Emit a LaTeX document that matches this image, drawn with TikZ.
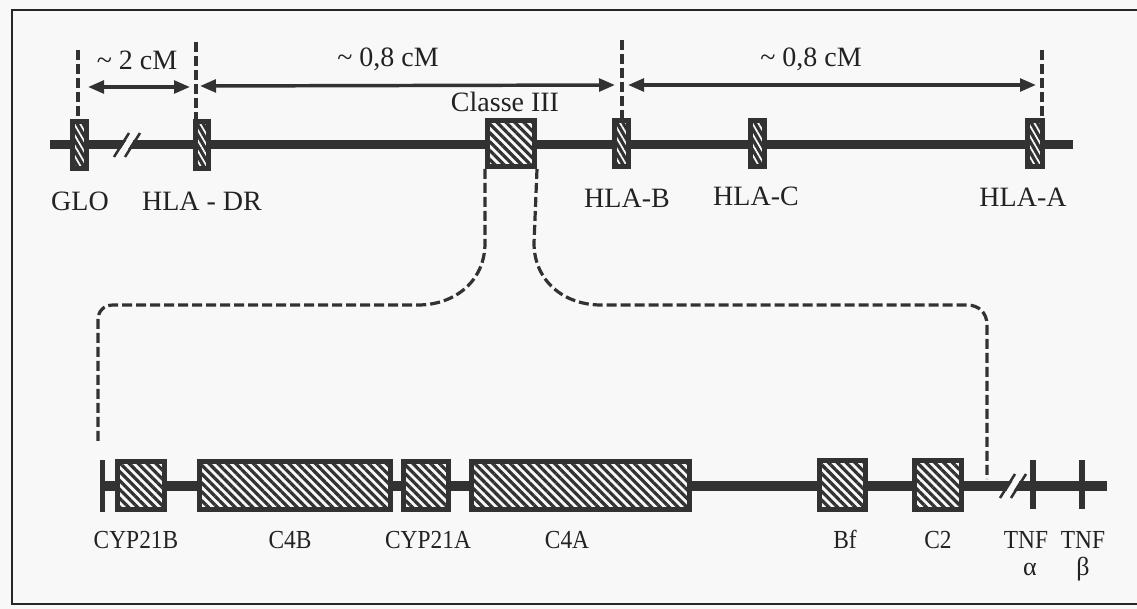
\documentclass[tikz,border=0pt]{standalone}
\usepackage{fontspec}
\setmainfont{Liberation Serif}
\usetikzlibrary{arrows.meta,patterns.meta,calc}
\definecolor{ink}{RGB}{50,50,50}
\definecolor{txt}{RGB}{34,34,34}
\definecolor{bgc}{RGB}{248,248,248}
\newcommand{\chrbreak}[1]{%
  \draw[bgc, line width=4.5pt] ($(#1)+(-3.8,6)$) -- ($(#1)+(3.8,-6)$);
  \draw[ink, line width=1.9pt] ($(#1)+(-13,12)$) -- ($(#1)+(2,-12)$);
  \draw[ink, line width=1.9pt] ($(#1)+(-2,12)$) -- ($(#1)+(13,-12)$);}
\newcommand{\sq}[1]{\scalebox{0.9}[1]{#1}}
\begin{document}
\begin{tikzpicture}[x=0.75pt,y=-0.75pt,
  toplab/.style={anchor=base, font=\fontsize{21}{24}\selectfont, text=txt, inner sep=0pt},
  botlab/.style={anchor=base, font=\fontsize{19.5}{22}\selectfont, text=txt, inner sep=0pt},
  bbox/.style 2 args={draw=ink, line width=3.75pt, inner sep=0pt,
    minimum width={(#1-5)*0.75pt}, minimum height={(#2-5)*0.75pt},
    preaction={fill=bgc},
    preaction={pattern={Lines[angle=-45,distance=4.7pt,line width=2.4pt]}, pattern color=ink}},
  nbox/.style 2 args={draw=ink, line width=3.75pt, inner sep=0pt,
    minimum width={(#1-5)*0.75pt}, minimum height={(#2-5)*0.75pt},
    preaction={fill=ink},
    preaction={pattern={Lines[angle=-60,distance=3.9pt,line width=1.3pt]}, pattern color=bgc}},
  tnfbar/.style={fill=ink, draw=none, inner sep=0pt, minimum width=4.3pt, minimum height={49*0.75pt}},
  chrtop/.style={draw=ink, line width=6.75pt},
  chrbot/.style={draw=ink, line width=7.5pt},
  endtick/.style={draw=ink, line width=3.75pt},
  vdsh/.style={draw=ink, line width=3pt, dash pattern=on 7.5pt off 3pt},
  brk/.style={draw=ink, line width=2.4pt, dash pattern=on 7.5pt off 3pt},
  dimarr/.style={draw=ink, line width=2.6pt,
    {Triangle[length=12pt,width=9.5pt]}-{Triangle[length=12pt,width=9.5pt]}},
  frame/.style={draw=black!85, line width=1.5pt}
]
\useasboundingbox (0,0) rectangle (1137,609);
\fill[bgc] (0,0) rectangle (1137,609);
\draw[frame] (1137,10) -- (12,10) -- (12,604) -- (1137,604);

% ---------- top chromosome ----------
\coordinate (tL) at (50,145);
\coordinate (tR) at (1073,145);
\draw[chrtop] (tL) -- (tR);
\coordinate (brkT) at (127,145);
\chrbreak{brkT}

\node[nbox={19}{52}] (GLO) at (79.5,145) {};
\node[nbox={18}{52}] (HLADR) at (202,145) {};
\node[bbox={52}{51}] (CIII) at (511,143.5) {};
\node[nbox={19}{51}] (HLAB) at (621.5,143.5) {};
\node[nbox={19}{51}] (HLAC) at (757.5,143.5) {};
\node[nbox={20}{51}] (HLAA) at (1035,143.5) {};

% dashed markers
\coordinate (gT) at (78,50);
\coordinate (dT) at (196,42);
\coordinate (bT) at (621.5,40);
\coordinate (aT) at (1042,50);
\draw[vdsh] (gT) -- (gT |- GLO.north);
\draw[vdsh] (dT) -- (dT |- HLADR.north);
\draw[vdsh] (bT) -- (bT |- HLAB.north);
\draw[vdsh] (aT) -- (aT |- HLAA.north);

% distance arrows
\coordinate (a1s) at (88,87);   \coordinate (a1e) at (190,87);
\coordinate (a2s) at (200,86);  \coordinate (a2e) at (615,85);
\coordinate (a3s) at (628,85);  \coordinate (a3e) at (1036,85);
\draw[dimarr] (a1s) -- (a1e);
\draw[dimarr] (a2s) -- (a2e);
\draw[dimarr] (a3s) -- (a3e);

\node[toplab] (d1) at (137,70) {\textasciitilde\ 2 cM};
\node[toplab] (d2) at (388,67) {\textasciitilde\ 0,8 cM};
\node[toplab] (d3) at (811,67) {\textasciitilde\ 0,8 cM};
\node[toplab] (lCIII) at (505,112) {Classe III};

\node[toplab] (lGLO) at (80,211) {GLO};
\node[toplab] (lDR) at (202,211) {HLA - DR};
\node[toplab] (lB) at (627,208) {HLA-B};
\node[toplab] (lC) at (756,206) {HLA-C};
\node[toplab] (lA) at (1023,207) {HLA-A};

% ---------- bottom (class III region) ----------
\coordinate (bL) at (100,486);
\coordinate (bR) at (1107,486);
\draw[chrbot] (bL) -- (bR);
\coordinate (eT) at (102,460);
\coordinate (eB) at (102,512);
\draw[endtick] (eT) -- (eB);
\coordinate (brkB) at (1013,486);
\chrbreak{brkB}

\node[bbox={52}{53}] (CYPB) at (141,485.5) {};
\node[bbox={196}{53}] (C4B) at (295,485.5) {};
\node[bbox={50}{53}] (CYPA) at (426,485.5) {};
\node[bbox={223}{53}] (C4A) at (580.5,485.5) {};
\node[bbox={51}{54}] (Bf) at (842.5,485) {};
\node[bbox={52}{54}] (C2) at (938,485) {};
\node[tnfbar] (TNFa) at (1033,484.5) {};
\node[tnfbar] (TNFb) at (1082,484.5) {};

\node[botlab] (lCYPB) at (136,548) {\sq{CYP21B}};
\node[botlab] (lC4B) at (290,548) {\sq{C4B}};
\node[botlab] (lCYPA) at (428,548) {\sq{CYP21A}};
\node[botlab] (lC4A) at (567,548) {\sq{C4A}};
\node[botlab] (lBf) at (845,548) {\sq{Bf}};
\node[botlab] (lC2) at (938,548) {\sq{C2}};
\node[botlab] (lTa) at (1026,548) {\sq{TNF}};
\node[botlab] (lTb) at (1083,548) {\sq{TNF}};
\node[botlab] (lal) at (1030,575) {α};
\node[botlab] (lbe) at (1083,575) {β};

% ---------- zoom bracket ----------
\coordinate (zl) at (98,443);
\coordinate (zr) at (987,479);
\draw[brk] (CIII.south west) -- (485,243)
  .. controls (485,281) and (455,305) .. (418,305) -- (113,305)
  .. controls (104,305) and (98,311) .. (98,320) -- (zl);
\draw[brk] (CIII.south east) -- (534,243)
  .. controls (534,281) and (564,305) .. (601,305) -- (967,305)
  .. controls (979,305) and (987,313) .. (987,325) -- (zr);
\end{tikzpicture}
\end{document}
